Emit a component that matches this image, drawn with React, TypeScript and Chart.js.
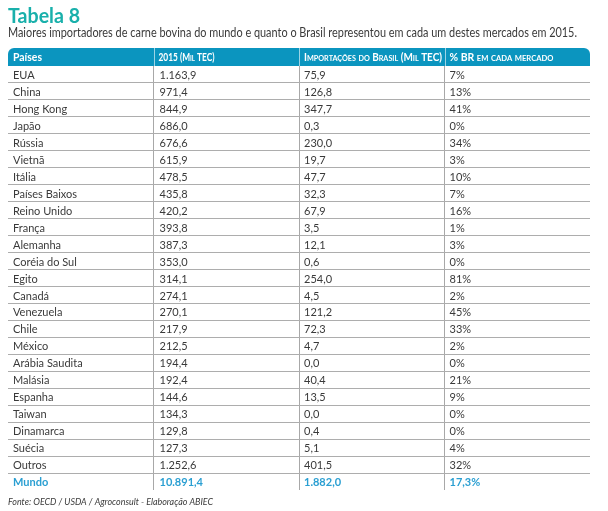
import React, { useEffect, useRef } from "react";
import { Chart, registerables } from "chart.js";

Chart.register(...registerables);

const title = "Tabela 8";
const subtitle =
  "Maiores importadores de carne bovina do mundo e quanto o Brasil representou em cada um destes mercados em 2015.";
const source = "Fonte: OECD / USDA / Agroconsult - Elaboração ABIEC";

const headers = ["Países", "2015 (Mil TEC)", "Importações do Brasil (Mil TEC)", "% BR em cada mercado"];

const countries = [
  "EUA", "China", "Hong Kong", "Japão", "Rússia", "Vietnã", "Itália", "Países Baixos",
  "Reino Unido", "França", "Alemanha", "Coréia do Sul", "Egito", "Canadá", "Venezuela",
  "Chile", "México", "Arábia Saudita", "Malásia", "Espanha", "Taiwan", "Dinamarca",
  "Suécia", "Outros",
];
const imports2015 = [
  1163.9, 971.4, 844.9, 686.0, 676.6, 615.9, 478.5, 435.8, 420.2, 393.8, 387.3, 353.0,
  314.1, 274.1, 270.1, 217.9, 212.5, 194.4, 192.4, 144.6, 134.3, 129.8, 127.3, 1252.6,
];
const importsBrazil = [
  75.9, 126.8, 347.7, 0.3, 230.0, 19.7, 47.7, 32.3, 67.9, 3.5, 12.1, 0.6,
  254.0, 4.5, 121.2, 72.3, 4.7, 0.0, 40.4, 13.5, 0.0, 0.4, 5.1, 401.5,
];
const shareBR = [7, 13, 41, 0, 34, 3, 10, 7, 16, 1, 3, 0, 81, 2, 45, 33, 2, 0, 21, 9, 0, 0, 4, 32];

const totalLabel = "Mundo";
const total2015 = 10891.4;
const totalBrazil = 1882.0;
const totalShare = 17.3;

const TEAL = "#19b0ab";
const HEADER = "#0b95bf";
const BLUE_TEXT = "#2a9fd2";
const TEXT = "#3a3a3a";
const LINE = "#adadad";

function fmt1(v: number): string {
  const [i, d] = v.toFixed(1).split(".");
  return i.replace(/\B(?=(\d{3})+(?!\d))/g, ".") + "," + d;
}

const rowLabels = [...countries, totalLabel];

// draw text with a given font, squeezed horizontally to a target width
function drawFit(ctx: CanvasRenderingContext2D, text: string, font: string, x: number, y: number, target: number, caps = false) {
  ctx.font = font;
  (ctx as any).fontVariantCaps = caps ? "small-caps" : "normal";
  const w = ctx.measureText(text).width;
  const k = target / w;
  ctx.save();
  ctx.translate(x, y);
  ctx.scale(k, 1);
  ctx.fillText(text, 0, 0);
  ctx.restore();
  (ctx as any).fontVariantCaps = "normal";
}

const tablePlugin = {
  id: "tablePlugin",
  afterDraw(chart: any) {
    const ctx: CanvasRenderingContext2D = chart.ctx;
    const xs = chart.scales.x;
    const ys = chart.scales.y;
    const area = chart.chartArea;
    const colX = (c: number) => xs.getPixelForValue(c);
    ctx.save();

    // Title
    ctx.fillStyle = TEAL;
    ctx.textBaseline = "alphabetic";
    ctx.textAlign = "left";
    drawFit(ctx, title, "bold 21px Lato", 8, 23, 72);

    // Subtitle
    ctx.fillStyle = TEXT;
    drawFit(ctx, subtitle, "12.5px Lato", 8, 37, 569);

    // Header bar
    const hTop = 48;
    const hBot = area.top;
    ctx.fillStyle = HEADER;
    ctx.beginPath();
    (ctx as any).roundRect(area.left, hTop, area.right - area.left, hBot - hTop, [6, 6, 0, 0]);
    ctx.fill();
    ctx.strokeStyle = "rgba(255,255,255,0.6)";
    ctx.lineWidth = 1;
    for (let c = 1; c < headers.length; c++) {
      const x = Math.round(colX(c)) + 0.5;
      ctx.beginPath();
      ctx.moveTo(x, hTop);
      ctx.lineTo(x, hBot);
      ctx.stroke();
    }
    const headerWidths = [29, 56, 138, 104];
    ctx.fillStyle = "#ffffff";
    ctx.textBaseline = "middle";
    headers.forEach((h, c) => {
      drawFit(ctx, h, "bold 11px Lato", colX(c) + 5, (hTop + hBot) / 2 + 0.5, headerWidths[c], c !== 0);
    });

    // Body cells
    ctx.font = "11px Lato";
    ctx.fillStyle = TEXT;
    countries.forEach((name, i) => {
      const y = ys.getPixelForValue(i) + 1;
      ctx.fillText(name, colX(0) + 5, y);
      ctx.fillText(fmt1(imports2015[i]), colX(1) + 6, y);
      ctx.fillText(fmt1(importsBrazil[i]), colX(2) + 5, y);
      ctx.fillText(shareBR[i] + "%", colX(3) + 5, y);
    });
    const yt = ys.getPixelForValue(countries.length) + 1;
    ctx.font = "bold 11px Lato";
    ctx.fillStyle = BLUE_TEXT;
    ctx.fillText(totalLabel, colX(0) + 5, yt);
    ctx.fillText(fmt1(total2015), colX(1) + 6, yt);
    ctx.fillText(fmt1(totalBrazil), colX(2) + 5, yt);
    ctx.fillText(fmt1(totalShare) + "%", colX(3) + 5, yt);

    // Source
    ctx.fillStyle = TEXT;
    ctx.textBaseline = "alphabetic";
    drawFit(ctx, source, "italic 10px Lato", 8, 505, 205);

    ctx.restore();
  },
};

export default function App() {
  const ref = useRef<HTMLCanvasElement>(null);
  useEffect(() => {
    document.body.style.margin = "0";
    const chart = new Chart(ref.current!, {
      type: "bar",
      data: { labels: rowLabels, datasets: [] },
      options: {
        animation: false,
        responsive: false,
        indexAxis: "y",
        layout: { padding: { left: 8, right: 18, top: 66, bottom: 21 } },
        plugins: { legend: { display: false }, tooltip: { enabled: false }, title: { display: false } },
        scales: {
          x: {
            type: "linear",
            min: 0,
            max: 4,
            ticks: { display: false, stepSize: 1 },
            border: { display: false },
            grid: {
              drawTicks: false,
              color: (c: any) => (c.tick && c.tick.value > 0 && c.tick.value < 4 ? "#a8a8a8" : "rgba(0,0,0,0)"),
              lineWidth: 1,
            },
          },
          y: {
            type: "category",
            labels: rowLabels,
            offset: true,
            ticks: { display: false },
            border: { display: false },
            grid: {
              offset: true,
              drawTicks: false,
              color: (c: any) => (c.index === undefined || c.index === 0 ? "rgba(0,0,0,0)" : LINE),
              lineWidth: 1,
            },
          },
        },
      } as any,
      plugins: [tablePlugin],
    });
    return () => chart.destroy();
  }, []);
  return <canvas ref={ref} width={608} height={511} style={{ display: "block" }} />;
}
